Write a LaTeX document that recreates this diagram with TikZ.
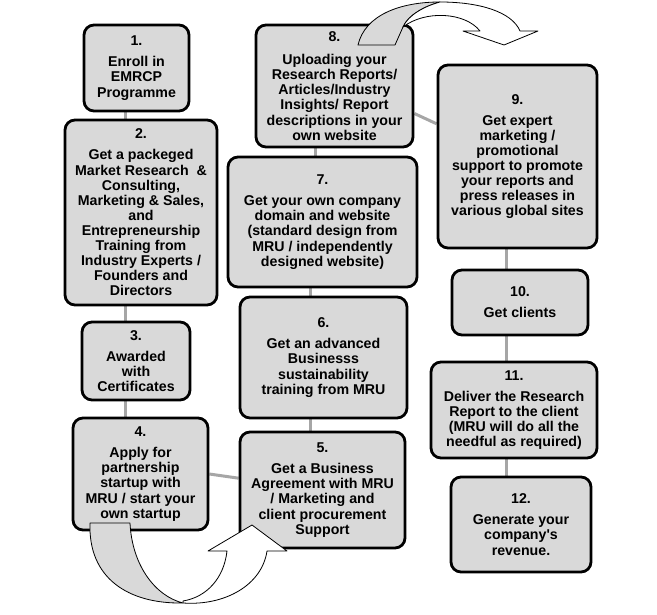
\documentclass[tikz,border=0pt]{standalone}
\usepackage{fontspec}
\setmainfont{Liberation Sans}
\usetikzlibrary{backgrounds}
\definecolor{boxgray}{HTML}{D9D9D9}
\definecolor{linkgray}{HTML}{A6A6A6}

\begin{document}
\begin{tikzpicture}[x=1pt,y=-1pt,
    stepbox/.style={draw=black,line width=2.8pt,rounded corners=10pt,fill=boxgray,align=center,
      inner sep=2pt,font=\bfseries\fontsize{14.2}{15.1}\selectfont},
    link/.style={draw=linkgray,line width=3pt},
    bentarrow/.style={draw=black,line width=0.8pt,line join=round}]
    \useasboundingbox (0,0) rectangle (657,615);

    % Left column
    \node[stepbox,minimum width=105,minimum height=86] (b1) at (136.5,68)
        {1.\\[6pt]Enroll in\\EMRCP\\Programme};
    \node[stepbox,minimum width=152,minimum height=185] (b2) at (141,212.5)
        {2.\\[6pt]Get a packeged\\Market Research \ \&\\Consulting,\\Marketing \& Sales,\\and\\Entrepreneurship\\Training from\\Industry Experts /\\Founders and\\Directors};
    \node[stepbox,minimum width=108,minimum height=78] (b3) at (136,361)
        {3.\\[6pt]Awarded\\with\\Certificates};
    \node[stepbox,minimum width=135,minimum height=112] (b4) at (140.5,474)
        {4.\\[6pt]Apply for\\partnership\\startup with\\MRU / start your\\own startup};

    % Middle column
    \node[stepbox,minimum width=165,minimum height=116] (b5) at (322.5,490)
        {5.\\[6pt]Get a Business\\Agreement with MRU\\/ Marketing and\\client procurement\\Support};
    \node[stepbox,minimum width=167,minimum height=121] (b6) at (323.5,357.5)
        {6.\\[6pt]Get an advanced\\Businesss\\sustainability\\training from MRU};
    \node[stepbox,minimum width=189,minimum height=130] (b7) at (322.5,222)
        {7.\\[6pt]Get your own company\\domain and website\\(standard design from\\MRU / independently\\designed website)};
    \node[stepbox,minimum width=157,minimum height=122] (b8) at (334.5,86)
        {8.\\[8pt]Uploading your\\Research Reports/\\Articles/Industry\\Insights/ Report\\descriptions in your\\own website};

    % Right column
    \node[stepbox,minimum width=159,minimum height=183] (b9) at (517.5,156.5)
        {9.\\[6pt]Get expert\\marketing /\\promotional\\support to promote\\your reports and\\press releases in\\various global sites};
    \node[stepbox,minimum width=136,minimum height=65] (b10) at (520,302.5)
        {10.\\[6pt]Get clients};
    \node[stepbox,minimum width=166,minimum height=96] (b11) at (514,410)
        {11.\\[6pt]Deliver the Research\\Report to the client\\(MRU will do all the\\needful as required)};
    \node[stepbox,minimum width=140,minimum height=95] (b12) at (521,524.5)
        {12.\\[6pt]Generate your\\company\textquotesingle s\\revenue.};

    % Links
    \begin{scope}[on background layer]
        \coordinate (cl) at (125,0);
        \coordinate (cm) at (310,0);
        \coordinate (cu) at (315,0);
        \coordinate (cr) at (506,0);
        \draw[link] (b1.south -| cl) -- (b2.north -| cl);
        \draw[link] (b2.south -| cl) -- (b3.north -| cl);
        \draw[link] (b3.south -| cl) -- (b4.north -| cl);
        \draw[link] (b4.east) -- (b5.172);
        \draw[link] (b5.north -| cm) -- (b6.south -| cm);
        \draw[link] (b6.north -| cm) -- (b7.south -| cm);
        \draw[link] (b7.north -| cu) -- (b8.south -| cu);
        \draw[link] (b8.-19) -- (b9.158);
        \draw[link] (b9.south -| cr) -- (b10.north -| cr);
        \draw[link] (b10.south -| cr) -- (b11.north -| cr);
        \draw[link] (b11.south -| cr) -- (b12.north -| cr);
    \end{scope}

    % Curved arrow 4 -> 5
    \draw[bentarrow,fill=boxgray] (90,523) .. controls (88,578) and (128,604) .. (183,603)
        .. controls (155,596) and (132,565) .. (130,523) -- cycle;
    \draw[bentarrow,fill=white] (183,603) .. controls (225,606) and (262,585) .. (267,551)
        -- (287,551) -- (252,525) -- (208,551) -- (227,551)
        .. controls (224,578) and (207,597) .. (183,601) -- cycle;

    % Curved arrow 8 -> 9
    \draw[bentarrow,fill=boxgray] (358,45) .. controls (365,15) and (400,2) .. (440,2)
        .. controls (425,6) and (408,15) .. (403,27) -- (395,45) -- cycle;
    \draw[bentarrow,fill=white] (440,2) .. controls (480,2) and (512,12) .. (520,31)
        -- (538,31) -- (504,45) -- (463,31) -- (480,31)
        .. controls (465,12) and (425,10) .. (403,27)
        .. controls (408,15) and (425,6) .. (440,2) -- cycle;
\end{tikzpicture}
\end{document}
